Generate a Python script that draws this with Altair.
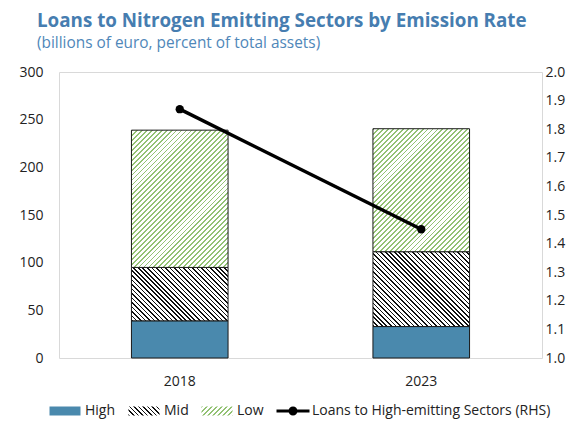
import math
import json
import altair as alt
import pandas as pd

# ---------------- data ----------------
years = ["2018", "2023"]
high = [39, 33]
mid = [56, 78.5]
low = [144, 129]
rhs_share = [1.87, 1.45]
segments = ["High", "Mid", "Low"]
line_name = "Loans to High-emitting Sectors (RHS)"
legend_items = ["High", "Mid", "Low", line_name]
left_ticks = [0, 50, 100, 150, 200, 250, 300]
right_ticks = [1.0, 1.1, 1.2, 1.3, 1.4, 1.5, 1.6, 1.7, 1.8, 1.9, 2.0]

rows = []
for i, yr in enumerate(years):
    base = 0
    for seg, vals in zip(segments, [high, mid, low]):
        rows.append({"year": yr, "segment": seg, "start": base,
                     "end": base + vals[i], "value": vals[i]})
        base += vals[i]
bars_df = pd.DataFrame(rows)
line_df = pd.DataFrame({"year": years, "share": rhs_share,
                        "series": [line_name] * len(years)})

# ---------------- layout / style ----------------
W, H = 483, 286
P_INNER, P_OUTER = 0.6, 0.3
BAR_W = W / (len(years) - P_INNER + 2 * P_OUTER) * (1 - P_INNER)
FONT = "Open Sans"
BLUE = "#4a89ad"
GREEN = "#93c274"
TITLE_BLUE = "#467db0"


def hatch(w, h, direction, color, spacing, lw, bg="white"):
    """Linear gradient made of hard stops -> 45 degree stripes in a w x h box."""
    ext = (w + h) / math.sqrt(2)
    n = math.ceil(ext / spacing) + 1
    L = n * spacing
    k = math.sqrt(2) * L / (w * w + h * h)
    a, b = k * w, k * h
    if direction == "back":
        x1, y1, x2, y2 = 0, 1, a, 1 - b
    else:
        x1, y1, x2, y2 = 0, 0, a, b
    f = lw / L
    stops = []
    for i in range(n):
        t0 = i / n
        t1 = (i + 1) / n
        stops += [
            {"offset": round(t0, 5), "color": color},
            {"offset": round(t0 + f, 5), "color": color},
            {"offset": round(t0 + f, 5), "color": bg},
            {"offset": round(t1, 5), "color": bg},
        ]
    return {"gradient": "linear", "x1": round(x1, 5), "y1": round(y1, 5),
            "x2": round(x2, 5), "y2": round(y2, 5), "stops": stops}


PATTERN = {"Mid": ("back", "#111111", 3.2, 1.15),
           "Low": ("fwd", GREEN, 3.5, 1.3)}

x_enc = alt.X("year:N", title=None,
              scale=alt.Scale(paddingInner=P_INNER, paddingOuter=P_OUTER),
              axis=alt.Axis(labelAngle=0, labelPadding=16))
y_scale = alt.Scale(domain=[0, 300])
y_axis = alt.Axis(values=left_ticks, labelPadding=16, title=None)

base = alt.Chart(bars_df).encode(
    x=x_enc,
    y=alt.Y("start:Q", scale=y_scale, axis=y_axis),
    y2="end:Q",
)

bar_layers = [
    base.transform_filter(alt.datum.segment == "High").mark_bar(
        fill=BLUE, stroke="#1a1a1a", strokeWidth=1)
]
for seg in ["Mid", "Low"]:
    d, col, sp, lw = PATTERN[seg]
    for i, yr in enumerate(years):
        val = {"Mid": mid, "Low": low}[seg][i]
        hpx = val * H / 300
        grad = hatch(BAR_W, hpx, d, col, sp, lw)
        bar_layers.append(
            base.transform_filter(
                (alt.datum.segment == seg) & (alt.datum.year == yr)
            ).mark_bar(fill=grad, stroke="#1a1a1a", strokeWidth=1)
        )
bars = alt.layer(*bar_layers)

# legend swatches
SW, SH = 31, 9
leg_mid = hatch(SW, SH, "back", "#111111", 3.2, 1.15)
leg_low = hatch(SW, SH, "fwd", GREEN, 3.5, 1.3)
rect_path = "M-1.1,-0.9H5.1V0.9H-1.1Z"
line_path = ("M-1.1,-0.3H5.5V0.3H-1.1Z "
             "M3.1,0A0.9,0.9 0 1,1 1.3,0A0.9,0.9 0 1,1 3.1,0Z")

y2_enc = alt.Y("share:Q", scale=alt.Scale(domain=[1.0, 2.0]),
               axis=alt.Axis(orient="right", values=right_ticks, format=".1f",
                             labelPadding=3, title=None))

line_base = alt.Chart(line_df).encode(x=x_enc, y=y2_enc)
line = line_base.mark_line(color="black", strokeWidth=3.5)
dots = line_base.mark_circle(color="black", size=70, opacity=1)
legend_layer = line_base.mark_point(filled=True, strokeWidth=0).encode(
    size=alt.value(0),
    fill=alt.Fill("series:N", scale=alt.Scale(
        domain=legend_items,
        range=[BLUE, alt.ExprRef(json.dumps(leg_mid)),
               alt.ExprRef(json.dumps(leg_low)), "black"]),
        legend=alt.Legend(title=None)),
    shape=alt.Shape("series:N", scale=alt.Scale(
        domain=legend_items,
        range=[rect_path, rect_path, rect_path, line_path]),
        legend=alt.Legend(title=None)),
)
lines = alt.layer(line, dots, legend_layer)

chart = alt.layer(bars, lines).resolve_scale(y="independent").properties(
    width=W, height=H,
    autosize=alt.AutoSizeParams(type="none"),
    padding={"left": 51, "top": 64, "right": 24, "bottom": 62},
    title=alt.TitleParams(
        text="Loans to Nitrogen Emitting Sectors by Emission Rate",
        subtitle="(billions of euro, percent of total assets)",
        anchor="start", frame="group", dx=-22, offset=14,
        font=FONT, fontSize=18.8, fontWeight="bold", color=TITLE_BLUE,
        subtitleFont=FONT, subtitleFontSize=15.4, subtitleColor="#4f87b9",
        subtitlePadding=5),
).configure_view(stroke="#d9d9d9", strokeWidth=1).configure_axis(
    grid=False, domain=False, ticks=False,
    labelFont=FONT, labelFontSize=14, labelColor="#222222",
).configure_legend(
    orient="none", legendX=-11, legendY=332, direction="horizontal",
    symbolSize=100, labelOffset=23, columnPadding=10, labelLimit=400,
    symbolStrokeColor="black", symbolStrokeWidth=1, symbolOpacity=1,
    labelFont=FONT, labelFontSize=14, labelColor="#222222", padding=0,
)

chart.save("out.html", embed_options={"renderer": "svg", "actions": False})
